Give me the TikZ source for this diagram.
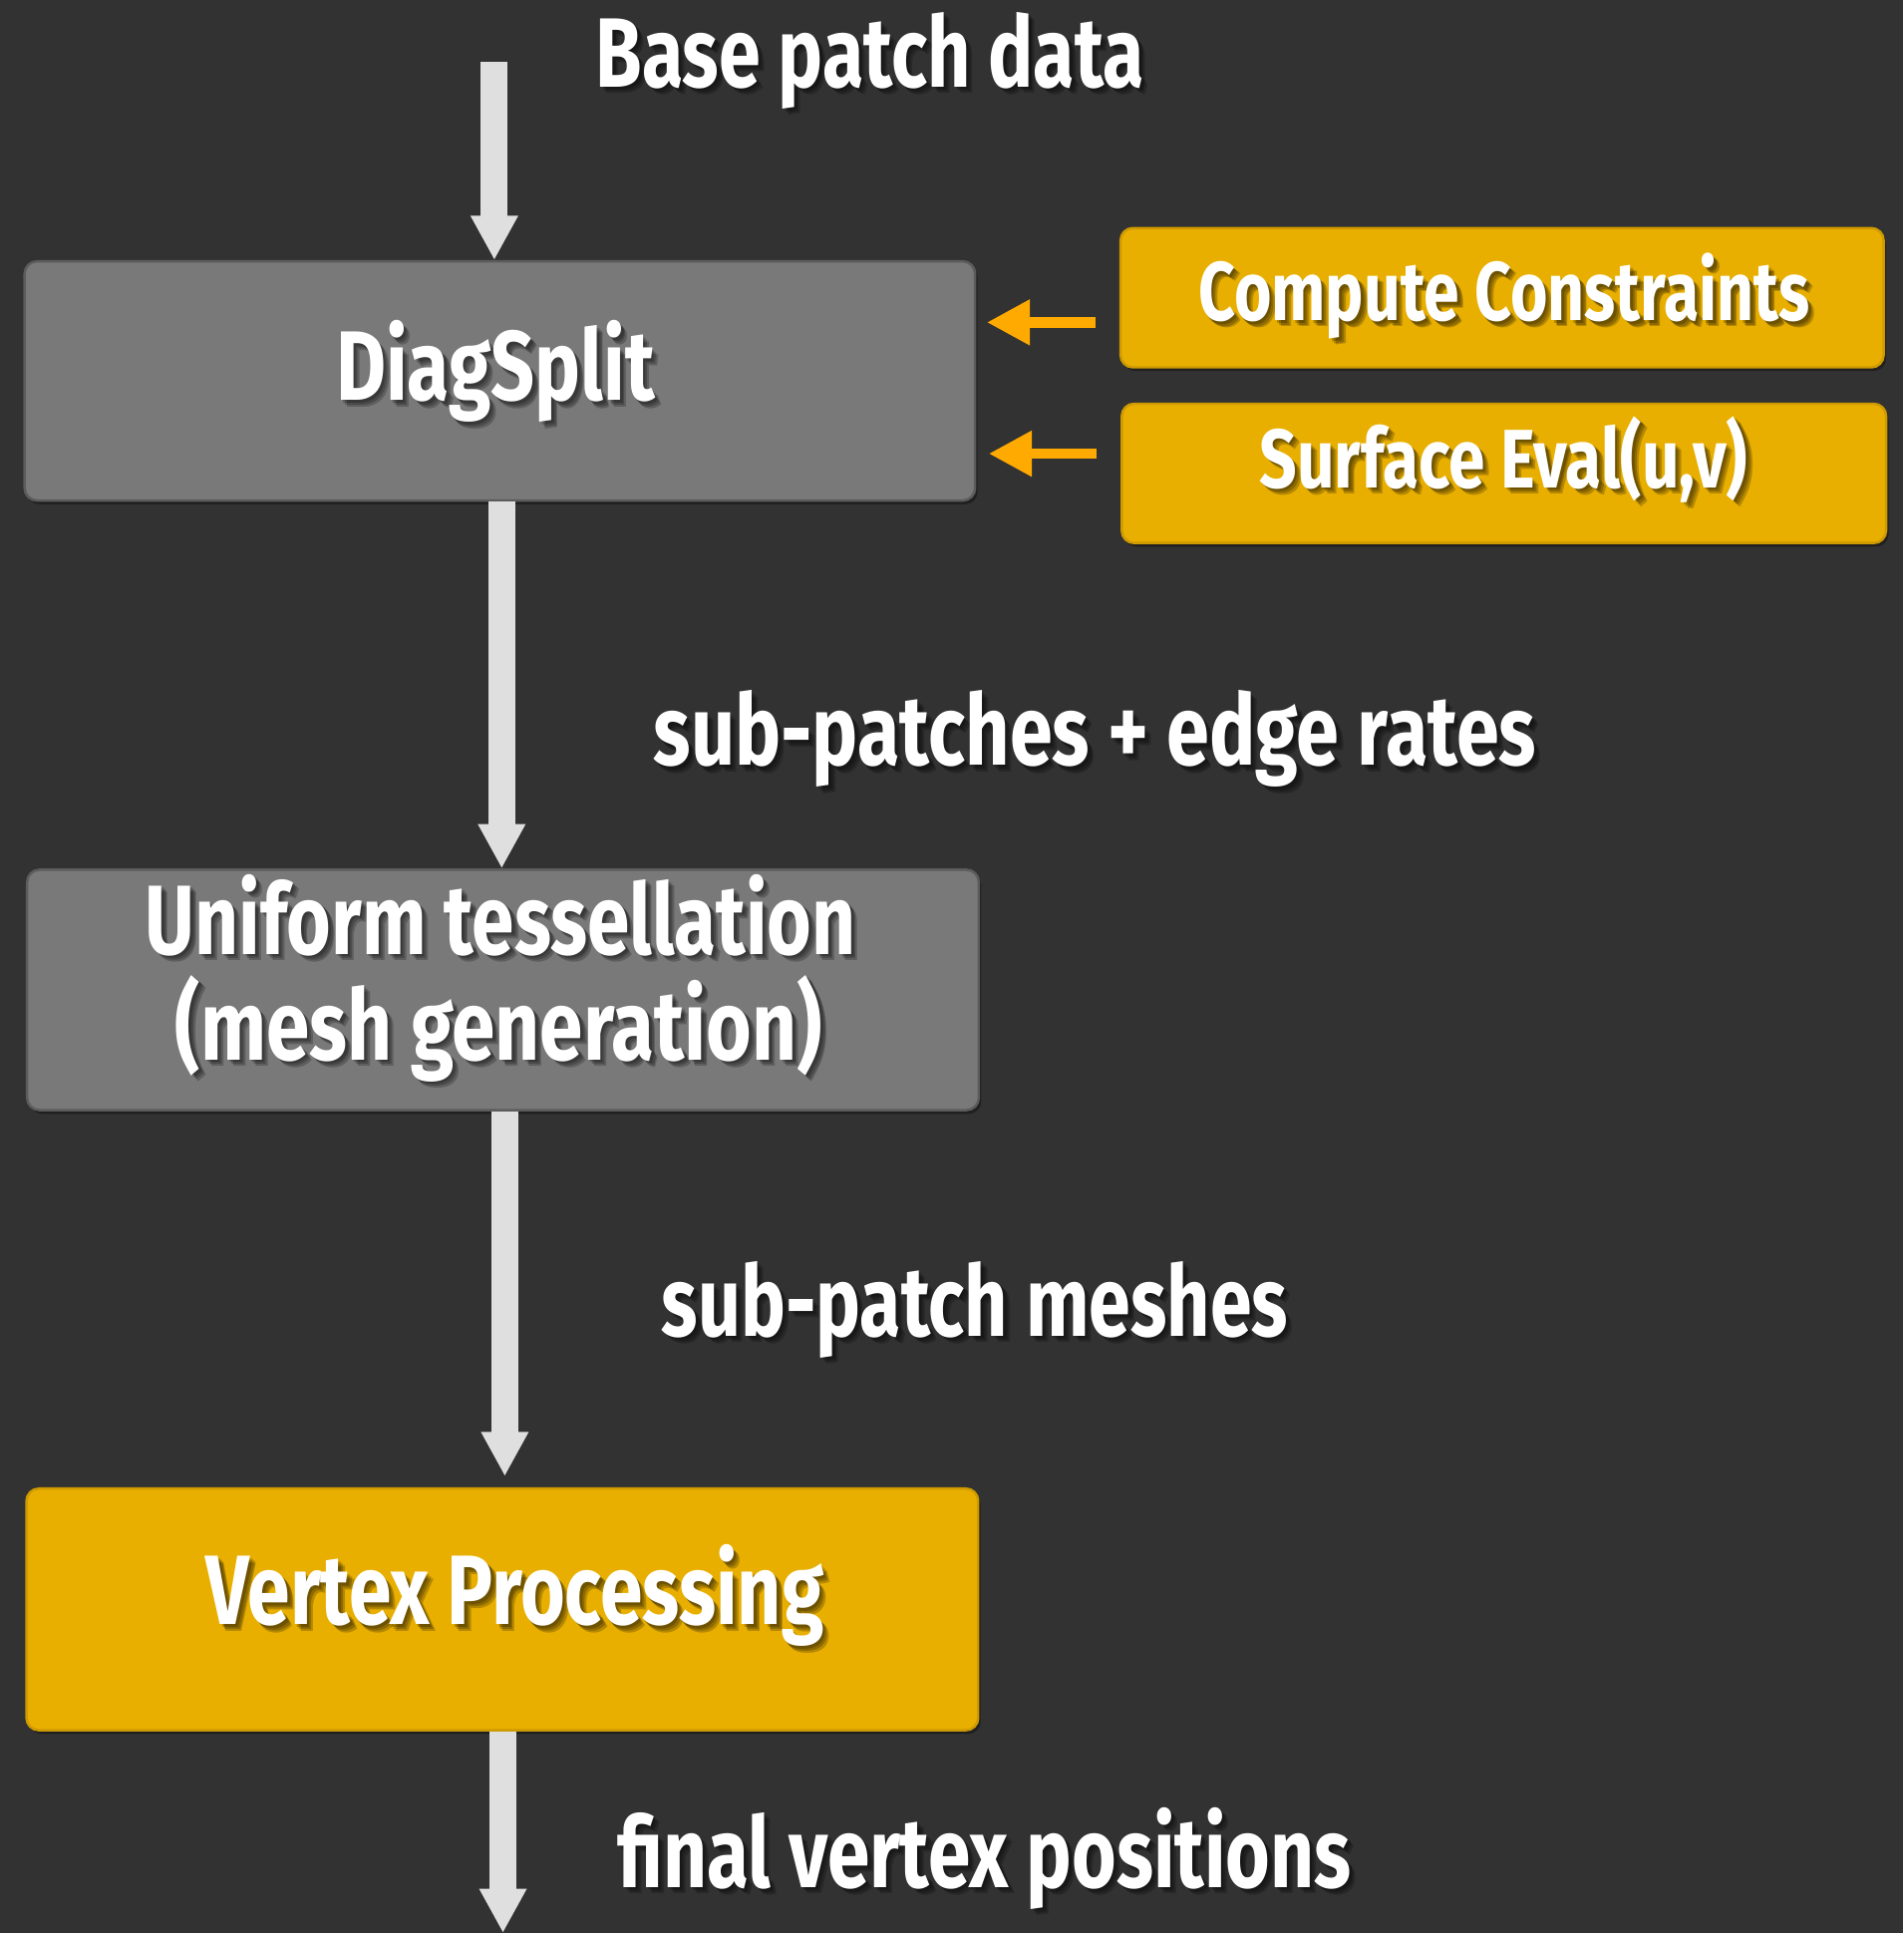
\documentclass[tikz,border=0pt]{standalone}
\usepackage{fontspec}
\setmainfont{Fira Sans}
\usetikzlibrary{arrows.meta,shadows}

\definecolor{bg}{HTML}{323232}
\definecolor{boxgray}{HTML}{797979}
\definecolor{boxgrayedge}{HTML}{5C5C5C}
\definecolor{gold}{HTML}{E8AF00}
\definecolor{goldedge}{HTML}{CF9A00}
\definecolor{feed}{HTML}{FFAA00}
\definecolor{flow}{HTML}{DFDFDF}

% stretch a text horizontally to a given width, keeping its height
\newcommand\fitto[2]{\resizebox{#1pt}{\height}{#2}}
\newcommand\bigface{\bfseries\fontsize{80}{90}\selectfont}
\newcommand\midface{\bfseries\fontsize{67.5}{76}\selectfont}

\tikzset{
  stage/.style={rectangle, rounded corners=10pt, line width=2pt, inner sep=0pt,
    anchor=north west,
    drop shadow={shadow xshift=2pt, shadow yshift=-3pt, opacity=0.35, fill=black}},
  graystage/.style={stage, fill=boxgray, draw=boxgrayedge},
  goldstage/.style={stage, fill=gold, draw=goldedge},
  txt/.style={text=white, inner sep=0pt, anchor=base west},
  txtshade/.style={text=black, text opacity=0.22, inner sep=0pt, anchor=base west},
  flowarrow/.style={draw=flow, line width=22pt, -{Triangle[width=36pt,length=36pt]}},
  feedarrow/.style={draw=feed, line width=8.5pt, -{Triangle[width=35pt,length=35pt]}},
}

% white label with a soft dark shadow behind it
\newcommand\lbl[5]{%
  \node[txtshade] (#1s1) at (#2+2,#3+2) {\fitto{#4}{#5}};
  \node[txtshade] (#1s2) at (#2+3.5,#3+3.5) {\fitto{#4}{#5}};
  \node[txtshade] (#1s3) at (#2+5,#3+5) {\fitto{#4}{#5}};
  \node[txt] (#1) at (#2,#3) {\fitto{#4}{#5}};}

\begin{document}
\begin{tikzpicture}[x=1pt,y=-1pt]
  \fill[bg] (0,0) rectangle (1544,1568);
  \useasboundingbox (0,0) rectangle (1544,1568);

  % pipeline stages
  \node[graystage, minimum width=771pt, minimum height=194pt] (diag) at (19,211) {};
  \node[graystage, minimum width=772pt, minimum height=195pt] (unif) at (21,704.5) {};
  \node[goldstage, minimum width=772pt, minimum height=196pt] (vp) at (20.5,1206.5) {};

  % helper units feeding DiagSplit
  \node[goldstage, minimum width=619pt, minimum height=113pt] (cc) at (908,184) {};
  \node[goldstage, minimum width=620pt, minimum height=113pt] (se) at (909,326.5) {};

  % flow arrows
  \coordinate (in) at (401,50);
  \coordinate (c2) at (407,0);
  \coordinate (c3) at (409.5,0);
  \coordinate (c4) at (408,0);
  \coordinate (out) at (408,1568);
  \draw[flowarrow] (in) -- (diag.north -| in);
  \draw[flowarrow] (diag.south -| c2) -- (unif.north -| c2);
  \draw[flowarrow] (unif.south -| c3) -- ([yshift=9pt]vp.north -| c3);
  \draw[flowarrow] (vp.south -| c4) -- (out);

  % feed arrows
  \coordinate (f1) at (0,261.5);
  \coordinate (f2) at (0,368);
  \draw[feedarrow] ([xshift=-19.5pt]cc.west |- f1) -- ([xshift=8.5pt]diag.east |- f1);
  \draw[feedarrow] ([xshift=-19.5pt]se.west |- f2) -- ([xshift=10pt]diag.east |- f2);

  % labels
  \lbl{tin}{483}{70.6}{445}{\bigface Base patch data}
  \lbl{tdiag}{272.4}{325}{258.6}{\bigface DiagSplit}
  \lbl{tcc}{972}{260.2}{496}{\midface Compute Constraints}
  \lbl{tse}{1021.5}{395.8}{396}{\midface Surface Eval(u,v)}
  \lbl{tsub}{530}{621}{716}{\bigface sub-patches + edge rates}
  \lbl{tunif}{117.6}{774}{576.5}{\bigface Uniform tessellation}
  \lbl{tmesh}{142}{859.8}{525}{\bigface (mesh generation)}
  \lbl{tmeshes}{536.5}{1083.8}{508}{\bigface sub-patch meshes}
  \lbl{tvp}{167}{1318}{501}{\bigface Vertex Processing}
  \lbl{tout}{500.5}{1530.8}{595.5}{\bigface final vertex positions}
\end{tikzpicture}
\end{document}
